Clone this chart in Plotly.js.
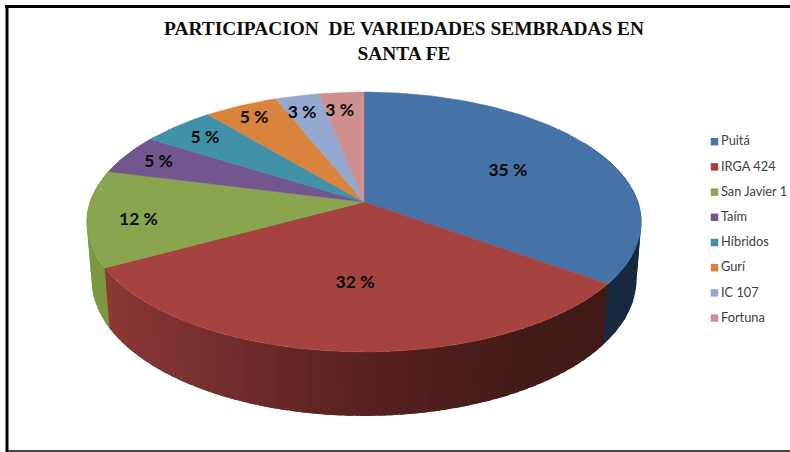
<!DOCTYPE html>
<html>
<head>
<meta charset="utf-8">
<script src="https://cdn.plot.ly/plotly-3.0.1.min.js"></script>
<style>html,body{margin:0;padding:0;background:#fff;overflow:hidden}#chart{width:790px;height:452px}</style>
</head>
<body>
<div id="chart"></div>
<script>
// ---- chart data ----
const categories = ["Puitá", "IRGA 424", "San Javier 1", "Taím", "Híbridos", "Gurí", "IC 107", "Fortuna"];
const shares = [35, 32, 12, 5, 5, 5, 3, 3];
const colors = ["#4572A7", "#A64341", "#89A54E", "#73558F", "#4192A8", "#D9833D", "#93A9CF", "#CE8F8E"];
const titleText = "PARTICIPACION&nbsp; DE VARIEDADES SEMBRADAS EN<br>SANTA FE";

// ---- style: where each percent label sits inside its slice ----
const labelRadius = [0.61, 0.58, 0.82, 0.86, 0.84, 0.88, 0.82, 0.85];
const labelNudgeX = [1, 2, 1, 0, 0, 0, -6, -5];
const labelNudgeY = [3, 1, 5, 2, 2, 3, 1, 5];

// ---- projection of the tilted disc onto the page (pixel axes) ----
const CX = 364, RX = 274, BASE_Y = 202, TILT_Y = -95.8, PERSP = 0.1538;
const DROP_Y = 61.4, DROP_W = 0.0175;
function project(deg, r, lower) {
  const a = deg * Math.PI / 180;
  const X = r * Math.sin(a), Y = r * Math.cos(a);
  const w = 1 + PERSP * Y + (lower ? DROP_W : 0);
  return [CX + RX * X / w, (TILT_Y * Y + BASE_Y + (lower ? DROP_Y : 0)) / w];
}
function arc(a0, a1, lower) {
  const n = Math.max(2, Math.ceil(Math.abs(a1 - a0)));
  const pts = [];
  for (let i = 0; i <= n; i++) pts.push(project(a0 + (a1 - a0) * i / n, 1, lower));
  return pts;
}
function lerpStops(stops, t) {
  for (let i = 1; i < stops.length; i++) {
    if (t <= stops[i][0]) {
      const s = stops[i - 1], e = stops[i], f = (t - s[0]) / (e[0] - s[0]);
      return "rgb(" + [1, 2, 3].map(k => Math.round(s[k] + (e[k] - s[k]) * f)).join(",") + ")";
    }
  }
  return "rgb(" + stops[stops.length - 1].slice(1).join(",") + ")";
}

// slice boundaries in degrees, clockwise from the top
const edges = [0];
shares.forEach(v => edges.push(edges[edges.length - 1] + v / 100 * 360));

const traces = [];
function wall(a0, a1, step, stops) {
  // each band runs under the next one drawn, so no seams show
  for (let a = a0; a < a1 - 1e-6; a += step) {
    const b = a + step + 1.5;
    const p = arc(a, b, false).concat(arc(a, b, true).reverse());
    const c = lerpStops(stops, Math.min(a + step / 2, a1));
    traces.push({
      type: "scatter", mode: "none", fill: "toself", fillcolor: c,
      x: p.map(q => q[0]).concat(p[0][0]), y: p.map(q => q[1]).concat(p[0][1]),
      showlegend: false, hoverinfo: "skip"
    });
  }
}
// side walls: blue, red and green are the only ones facing the viewer
wall(60, edges[1], 6, [[60, 23, 41, 63], [edges[1], 23, 41, 63]]);
wall(edges[1], edges[2], 2, [[edges[1], 64, 26, 23], [150, 68, 27, 24], [180, 88, 33, 31], [210, 118, 48, 46], [edges[2], 142, 57, 54]]);
wall(edges[2], 300, 6, [[edges[2], 122, 152, 66], [300, 122, 152, 66]]);

// top faces
categories.forEach((name, i) => {
  const p = [project(0, 0, false)].concat(arc(edges[i], edges[i + 1], false));
  traces.push({
    type: "scatter", mode: "lines", fill: "toself", fillcolor: colors[i], name: name,
    x: p.map(q => q[0]).concat(p[0][0]), y: p.map(q => q[1]).concat(p[0][1]),
    line: {color: colors[i], width: 0.5}, showlegend: false,
    hovertemplate: name + ": " + shares[i] + " %<extra></extra>", hoveron: "fills"
  });
});

// percent labels
const labelPts = shares.map((v, i) => project((edges[i] + edges[i + 1]) / 2, labelRadius[i], false));
traces.push({
  type: "scatter", mode: "text", showlegend: false, hoverinfo: "skip",
  x: labelPts.map((q, i) => q[0] + labelNudgeX[i]), y: labelPts.map((q, i) => q[1] + labelNudgeY[i]),
  text: shares.map(v => v + " %"), textposition: "middle center",
  textfont: {family: "Lato, 'Open Sans', sans-serif", size: 17.5, color: "#0a0a0a", weight: 700}
});

// legend key
const KEY_X = 714.5, KEY_TOP = 141.7, KEY_STEP = 25.2, KEY_TEXT_GAP = 6.5;
traces.push({
  type: "scatter", mode: "markers", showlegend: false, hoverinfo: "skip",
  x: categories.map(() => KEY_X), y: categories.map((c, i) => KEY_TOP + KEY_STEP * i),
  marker: {symbol: "square", size: 7.5, color: colors, line: {width: 0}}
});
traces.push({
  type: "scatter", mode: "text", showlegend: false, hoverinfo: "skip",
  x: categories.map(() => KEY_X + KEY_TEXT_GAP), y: categories.map((c, i) => KEY_TOP + KEY_STEP * i + 0.5),
  text: categories, textposition: "middle right",
  textfont: {family: "Lato, 'Open Sans', sans-serif", size: 12.8, color: "#404040"}
});

const layout = {
  width: 790, height: 452, autosize: false,
  margin: {l: 0, r: 0, t: 0, b: 0, pad: 0},
  paper_bgcolor: "#fff", plot_bgcolor: "#fff", showlegend: false,
  dragmode: false,
  title: {
    text: titleText, x: 404 / 790, xanchor: "center", xref: "paper",
    y: 0.922, yanchor: "top", yref: "container",
    font: {family: "'Liberation Serif', serif", size: 19.4, color: "#0d0d0d", weight: 700}
  },
  xaxis: {range: [0, 790], visible: false, fixedrange: true},
  yaxis: {range: [452, 0], visible: false, fixedrange: true},
  shapes: [
    {type: "line", xref: "x", yref: "y", x0: 5, x1: 790, y0: 6.5, y1: 6.5, line: {color: "#000", width: 3}},
    {type: "line", xref: "x", yref: "y", x0: 7, x1: 7, y0: 5, y1: 452, line: {color: "#000", width: 3}},
    {type: "line", xref: "x", yref: "y", x0: 8, x1: 790, y0: 451, y1: 451, line: {color: "#444", width: 2}}
  ]
};
Plotly.newPlot("chart", traces, layout, {displayModeBar: false, responsive: false});
</script>
</body>
</html>
